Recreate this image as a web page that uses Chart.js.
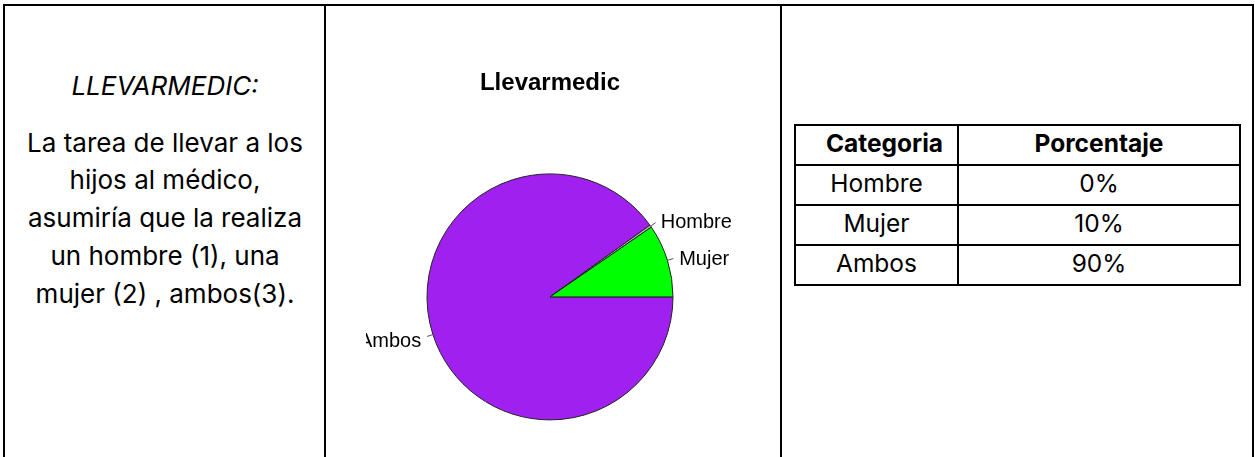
<!DOCTYPE html>
<html>
<head>
<meta charset="utf-8">
<script src="https://cdn.jsdelivr.net/npm/chart.js@4"></script>
<style>
  html, body { margin: 0; padding: 0; background: #fff; }
  body { width: 1255px; height: 457px; overflow: hidden; position: relative; font-family: Inter, "Noto Sans", sans-serif; color: #000; }
  .line { position: absolute; background: #000; }
  #leftText { position: absolute; left: 5px; width: 320px; top: 67px; text-align: center; font-size: 26px; line-height: 37.7px; }
  #leftText .head { font-style: italic; margin-bottom: 19px; }
  #chartBox { position: absolute; left: 366px; top: 50px; width: 368px; height: 436px; }
  #dataTable { position: absolute; left: 794px; top: 124px; border-collapse: collapse; font-size: 24.5px; }
  #dataTable th, #dataTable td { border: 2px solid #000; text-align: center; padding: 0 0 5px 0; height: 33px; }
  #dataTable th { font-weight: bold; }
</style>
</head>
<body>
<div class="line" style="left:3px;top:4px;width:1251px;height:2px"></div>
<div class="line" style="left:3px;top:4px;width:2px;height:460px"></div>
<div class="line" style="left:324px;top:4px;width:2px;height:460px"></div>
<div class="line" style="left:780px;top:4px;width:2px;height:460px"></div>
<div class="line" style="left:1252px;top:4px;width:2px;height:460px"></div>

<div id="leftText">
  <div class="head">LLEVARMEDIC:</div>
  <div>La tarea de llevar a los<br>hijos al médico,<br>asumiría que la realiza<br>un hombre (1), una<br>mujer (2) , ambos(3).</div>
</div>

<div id="chartBox"><canvas id="pieChart"></canvas></div>

<table id="dataTable"></table>

<script>
// pie, in drawing order (clockwise from 3 o'clock)
const pieLabels = ['Ambos', 'Hombre', 'Mujer'];
const pieValues = [90.1, 0.3, 9.6];
const pieColors = ['#A020F0', '#BEBEBE', '#00FF00'];

// side table
const tableHeaders = ['Categoria', 'Porcentaje'];
const tableCategories = ['Hombre', 'Mujer', 'Ambos'];
const tablePercents = ['0%', '10%', '90%'];

const table = document.getElementById('dataTable');
let html = '<tr><th style="width:145px;padding-left:16px">' + tableHeaders[0] + '</th><th style="width:280px">' + tableHeaders[1] + '</th></tr>';
tableCategories.forEach((cat, i) => {
  html += '<tr><td>' + cat + '</td><td>' + tablePercents[i] + '</td></tr>';
});
table.innerHTML = html;

// R-style labels outside the pie with a short tick
const outsideLabels = {
  id: 'outsideLabels',
  afterDatasetsDraw(chart) {
    const ctx = chart.ctx;
    const arcs = chart.getDatasetMeta(0).data;
    ctx.save();
    ctx.font = '20px "Liberation Sans", Arial, sans-serif';
    ctx.textBaseline = 'middle';
    arcs.forEach((arc, i) => {
      const p = arc.getProps(['x', 'y', 'startAngle', 'endAngle', 'outerRadius'], true);
      const mid = (p.startAngle + p.endAngle) / 2;
      const c = Math.cos(mid), s = Math.sin(mid);
      const r = p.outerRadius;
      ctx.strokeStyle = '#555';
      ctx.lineWidth = 1;
      ctx.beginPath();
      ctx.moveTo(p.x + c * r, p.y + s * r);
      ctx.lineTo(p.x + c * r * 1.05, p.y + s * r * 1.05);
      ctx.stroke();
      ctx.fillStyle = '#000';
      ctx.textAlign = c > 0 ? 'left' : 'right';
      ctx.fillText(pieLabels[i], p.x + c * r * 1.1, p.y + s * r * 1.1 + 3);
    });
    ctx.restore();
  }
};

new Chart(document.getElementById('pieChart').getContext('2d'), {
  type: 'pie',
  data: {
    labels: pieLabels,
    datasets: [{
      data: pieValues,
      backgroundColor: pieColors,
      borderColor: '#222',
      borderWidth: 1
    }]
  },
  options: {
    responsive: true,
    maintainAspectRatio: false,
    animation: false,
    rotation: 90,
    radius: 123,
    layout: { padding: 0 },
    plugins: {
      legend: { display: false },
      tooltip: { enabled: false },
      title: {
        display: true,
        text: 'Llevarmedic',
        color: '#000',
        font: { family: '"Liberation Sans", Arial, sans-serif', size: 24, weight: 'bold' },
        padding: { top: 19, bottom: 10 }
      }
    }
  },
  plugins: [outsideLabels]
});
</script>
</body>
</html>
